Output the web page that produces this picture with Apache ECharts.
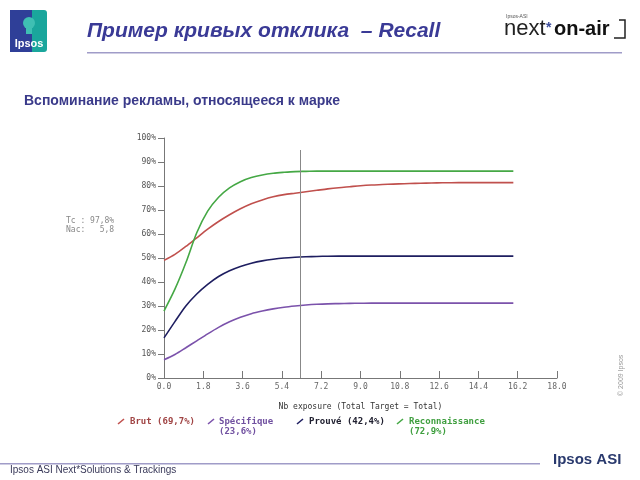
<!DOCTYPE html>
<html><head><meta charset="utf-8">
<script src="https://cdn.jsdelivr.net/npm/echarts@6/dist/echarts.min.js"></script>
<style>html,body{margin:0;padding:0;background:#fff}#c{width:640px;height:480px}</style>
</head><body><div id="c"></div>
<script>
const exposures = [0,0.5,1,1.5,2,2.5,3,3.5,4,4.5,5,5.5,6,6.5,7,7.5,8,8.5,9,9.5,10,10.5,11,11.5,12,12.5,13,13.5,14,14.5,15,15.5,16];
const brut   = [49,51.5,54.8,58.4,62,65.2,68,70.5,72.6,74.2,75.5,76.4,77.0,77.6,78.2,78.8,79.3,79.7,80.1,80.4,80.6,80.8,80.95,81.1,81.2,81.3,81.35,81.4,81.4,81.4,81.4,81.4,81.4];
const specif = [7.6,9.8,12.6,15.5,18.4,21.1,23.4,25.3,26.8,27.9,28.8,29.5,30.0,30.4,30.7,30.9,31.0,31.1,31.15,31.2,31.2,31.2,31.2,31.2,31.2,31.2,31.2,31.2,31.2,31.2,31.2,31.2,31.2];
const prouve = [16.7,23.5,30,35,39,42.3,44.7,46.5,47.8,48.8,49.5,50,50.3,50.5,50.65,50.75,50.8,50.8,50.8,50.8,50.8,50.8,50.8,50.8,50.8,50.8,50.8,50.8,50.8,50.8,50.8,50.8,50.8];
const recon  = [27.9,37,48,60.5,69.5,75.3,79.2,81.8,83.5,84.6,85.3,85.7,86.0,86.1,86.2,86.2,86.2,86.2,86.2,86.2,86.2,86.2,86.2,86.2,86.2,86.2,86.2,86.2,86.2,86.2,86.2,86.2,86.2];
const seriesNames = ['Brut (69,7%)','Spécifique\n(23,6%)','Prouvé (42,4%)','Reconnaissance\n(72,9%)'];
const seriesColors = ['#c0504d','#7b52ab','#1e1e60','#45a845'];
const legendText = ['#a04444','#7050a0','#202030','#3f9f3f'];
const seriesData = [brut, specif, prouve, recon];
const vLineX = 6.23;
const infoText = ['Tc : 97,8%','Nac:   5,8'];

const chart = echarts.init(document.getElementById('c'));
const mono = 'DejaVu Sans Mono';
const legendPos = [[118,130],[208,219],[297,309],[397,409]];
const graphics = [];
// header logo
graphics.push({type:'rect',shape:{x:10,y:10,width:22,height:42},style:{fill:'#2f3f98'}});
graphics.push({type:'rect',shape:{x:32,y:10,width:15,height:42,r:[0,3,3,0]},style:{fill:'#1aa69c'}});
graphics.push({type:'circle',shape:{cx:29,cy:23,r:6},style:{fill:'#3fbfb3'}});
graphics.push({type:'rect',shape:{x:26,y:27,width:6,height:7},style:{fill:'#3fbfb3'}});
graphics.push({type:'text',style:{text:'Ipsos',x:29,y:44,align:'center',verticalAlign:'middle',fill:'#fff',font:'bold 11px Liberation Sans'}});
graphics.push({type:'text',style:{text:'Пример кривых отклика  – Recall',x:87,y:31,verticalAlign:'middle',fill:'#3a3a96',font:'italic bold 21px Liberation Sans'}});
graphics.push({type:'rect',shape:{x:87,y:52,width:535,height:1.5},style:{fill:'#a09cc8'}});
graphics.push({type:'text',style:{text:'Ipsos-ASI',x:506,y:17,verticalAlign:'middle',fill:'#555',font:'5px Liberation Sans'}});
graphics.push({type:'text',style:{text:'next',x:504,y:29,verticalAlign:'middle',fill:'#222',font:'22px Liberation Sans'}});
graphics.push({type:'text',style:{text:'*',x:546,y:28,verticalAlign:'middle',fill:'#3a4a9a',font:'bold 14px Liberation Sans'}});
graphics.push({type:'text',style:{text:'on-air',x:554,y:29,verticalAlign:'middle',fill:'#111',font:'bold 20px Liberation Sans'}});
graphics.push({type:'polyline',shape:{points:[[619,20],[625,20],[625,38],[614,38]]},style:{stroke:'#222',lineWidth:1.5,fill:null}});
graphics.push({type:'text',style:{text:'Вспоминание рекламы, относящееся к марке',x:24,y:101,verticalAlign:'middle',fill:'#3a3a8a',font:'bold 14px Liberation Sans'}});
// info text
infoText.forEach((t,i)=>graphics.push({type:'text',style:{text:t,x:66,y:221+i*9,verticalAlign:'middle',fill:'#888',font:'8px '+mono}}));
// legend
seriesNames.forEach((n,i)=>{
  const [ix,tx]=legendPos[i];
  graphics.push({type:'line',shape:{x1:ix,y1:424,x2:ix+6,y2:419},style:{stroke:seriesColors[i],lineWidth:1.6}});
  graphics.push({type:'text',style:{text:n,x:tx,y:417,fill:legendText[i],font:'bold 9px '+mono,lineHeight:10}});
});
// footer
graphics.push({type:'rect',shape:{x:0,y:463,width:540,height:1.5},style:{fill:'#a09cc8'}});
graphics.push({type:'text',style:{text:'Ipsos ASI Next*Solutions & Trackings',x:10,y:470,verticalAlign:'middle',fill:'#3a3a5a',font:'10px Liberation Sans'}});
graphics.push({type:'text',style:{text:'Ipsos ASI',x:553,y:460,verticalAlign:'middle',fill:'#2a3a6e',font:'bold 15px Liberation Sans'}});
graphics.push({type:'text',rotation:Math.PI/2,x:621,y:396,style:{text:'© 2009 Ipsos',verticalAlign:'middle',fill:'#999',font:'7px Liberation Sans'}});

chart.setOption({
  animation:false,
  grid:{left:164,right:83,top:138,bottom:102,containLabel:false},
  xAxis:{type:'value',min:0,max:18,interval:1.8,
    name:'Nb exposure (Total Target = Total)',nameLocation:'middle',nameGap:25,
    nameTextStyle:{fontFamily:mono,fontSize:8,color:'#333'},
    axisLine:{lineStyle:{color:'#777'}},
    axisTick:{inside:true,length:7,lineStyle:{color:'#777'}},
    axisLabel:{fontFamily:mono,fontSize:8,color:'#666',margin:5,formatter:v=>v.toFixed(1)},
    splitLine:{show:false}},
  yAxis:{type:'value',min:0,max:100,interval:10,
    axisLine:{show:true,lineStyle:{color:'#777'}},
    axisTick:{show:true,length:6,lineStyle:{color:'#777'}},
    axisLabel:{fontFamily:mono,fontSize:8,color:'#555',margin:8,formatter:'{value}%'},
    splitLine:{show:false}},
  series:seriesData.map((d,i)=>({
    type:'line',name:seriesNames[i],smooth:0.3,showSymbol:false,
    data:exposures.map((x,k)=>[x,d[k]]),
    lineStyle:{color:seriesColors[i],width:1.6},
    markLine: i===0 ? {silent:true,symbol:'none',label:{show:false},lineStyle:{color:'#888',width:1,type:'solid'},
      data:[[{coord:[vLineX,0]},{coord:[vLineX,95]}]]} : undefined
  })),
  graphic:graphics
});
</script></body></html>
